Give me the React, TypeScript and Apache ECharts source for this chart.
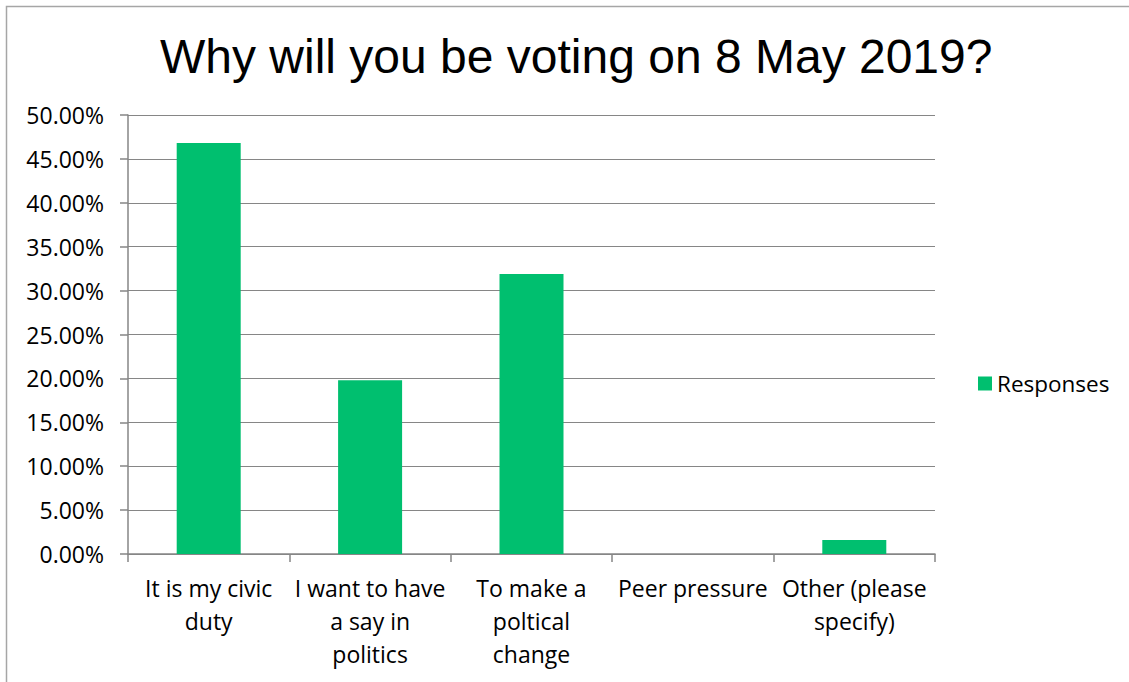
import React, { useEffect, useRef } from "react";
import * as echarts from "echarts";

const categories = [
  "It is my civic\nduty",
  "I want to have\na say in\npolitics",
  "To make a\npoltical\nchange",
  "Peer pressure",
  "Other (please\nspecify)",
];
const responses = [46.8, 19.8, 31.9, 0, 1.6];
const seriesName = "Responses";
const titleText = "Why will you be voting on 8 May 2019?";

export default function App() {
  const ref = useRef<HTMLDivElement>(null);
  useEffect(() => {
    if (!ref.current) return;
    const chart = echarts.init(ref.current, null, { renderer: "svg" });
    const font = "'Open Sans', Lato, sans-serif";
    chart.setOption({
      animation: false,
      backgroundColor: "#ffffff",
      title: {
        text: titleText,
        left: 155,
        top: 27,
        textStyle: {
          fontFamily: "'Liberation Sans', Arial, sans-serif",
          fontSize: 48,
          fontWeight: "normal",
          color: "#000000",
        },
      },
      graphic: [
        {
          type: "rect",
          shape: { x: 6.5, y: 6.5, width: 1200, height: 1000 },
          style: { fill: "none", stroke: "#a6a6a6", lineWidth: 1.5 },
          silent: true,
        },
      ],
      legend: {
        left: 973,
        top: 367,
        itemWidth: 14,
        itemHeight: 14,
        itemGap: 8,
        icon: "rect",
        textStyle: { fontFamily: font, fontSize: 22.5, color: "#000000" },
        data: [seriesName],
      },
      grid: { left: 128, right: 194, top: 115, bottom: 128 },
      xAxis: {
        type: "category",
        data: categories,
        axisLine: { lineStyle: { color: "#868686", width: 1.5 } },
        axisTick: { show: true, length: 8, lineStyle: { color: "#868686", width: 1.5 } },
        axisLabel: {
          interval: 0,
          margin: 17,
          fontFamily: font,
          fontSize: 23,
          lineHeight: 33,
          color: "#000000",
        },
      },
      yAxis: {
        type: "value",
        min: 0,
        max: 50,
        interval: 5,
        axisLine: { show: true, lineStyle: { color: "#868686", width: 1.5 } },
        axisTick: { show: true, length: 8, lineStyle: { color: "#868686", width: 1.5 } },
        splitLine: { show: true, lineStyle: { color: "#868686", width: 1 } },
        axisLabel: {
          margin: 24,
          fontFamily: font,
          fontSize: 23,
          color: "#000000",
          formatter: (v: number) => v.toFixed(2) + "%",
        },
      },
      series: [
        {
          name: seriesName,
          type: "bar",
          data: responses,
          barWidth: 64,
          itemStyle: { color: "#00bf6f" },
        },
      ],
    });
    return () => chart.dispose();
  }, []);
  return (
    <div
      ref={ref}
      style={{ position: "absolute", left: 0, top: 0, width: 1129, height: 682 }}
    />
  );
}
